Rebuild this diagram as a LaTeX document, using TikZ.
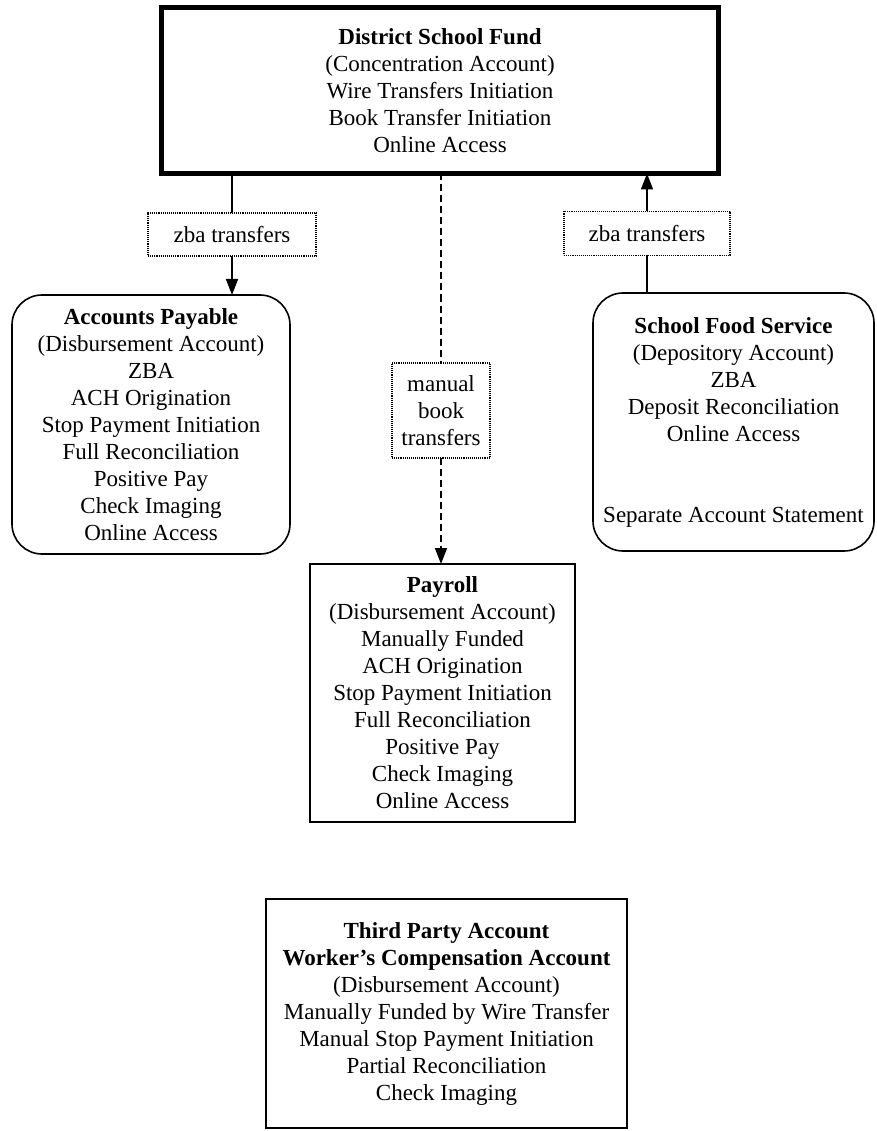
\documentclass[tikz,border=0pt]{standalone}
\usepackage{fontspec}
\setmainfont{Liberation Serif}
\usetikzlibrary{arrows.meta}
\begin{document}
\begin{tikzpicture}[x=1pt,y=1pt,
  every node/.style={inner sep=0pt, outer sep=0pt, align=center,
    font=\fontsize{23}{27}\selectfont},
  acct/.style={draw, line width=1.6pt},
  roundacct/.style={draw, line width=1.6pt, rounded corners=30pt},
  mainacct/.style={draw, line width=5pt},
  lbl/.style={draw, densely dotted, line width=1.1pt},
  conn/.style={line width=1.6pt},
  arr/.style={conn, -{Triangle[length=16pt,width=12pt]}},
]
\useasboundingbox (0,0) rectangle (876,-1131);

\node[mainacct, minimum width=557pt, minimum height=166pt] (top) at (440,-90.5)
  {\textbf{District School Fund}\\(Concentration Account)\\Wire Transfers Initiation\\Book Transfer Initiation\\Online Access};

\node[lbl, minimum width=168pt, minimum height=43pt] (lzba) at (232,-234.5) {zba transfers};
\node[lbl, minimum width=166pt, minimum height=44pt] (rzba) at (647,-233.5) {zba transfers};
\node[lbl, minimum width=98pt, minimum height=95pt] (man) at (441,-410.5) {manual\\book\\transfers};

\node[roundacct, minimum width=278pt, minimum height=259pt] (ap) at (151,-424.5)
  {\textbf{Accounts Payable}\\(Disbursement Account)\\ZBA\\ACH Origination\\Stop Payment Initiation\\Full Reconciliation\\Positive Pay\\Check Imaging\\Online Access};

\node[roundacct, minimum width=281pt, minimum height=258pt] (sfs) at (733.5,-422)
  {\textbf{School Food Service}\\(Depository Account)\\ZBA\\Deposit Reconciliation\\Online Access\\[54pt]Separate Account Statement};

\node[acct, minimum width=265pt, minimum height=258pt] (pay) at (442.5,-693)
  {\textbf{Payroll}\\(Disbursement Account)\\Manually Funded\\ACH Origination\\Stop Payment Initiation\\Full Reconciliation\\Positive Pay\\Check Imaging\\Online Access};

\node[acct, minimum width=361pt, minimum height=229pt] (third) at (446.5,-1013.5)
  {\textbf{Third Party Account}\\\textbf{Worker's Compensation Account}\\(Disbursement Account)\\Manually Funded by Wire Transfer\\Manual Stop Payment Initiation\\Partial Reconciliation\\Check Imaging};

% left zba
\draw[conn] (top.south -| lzba.north) -- (lzba.north);
\draw[arr] (lzba.south) -- (lzba.south |- ap.north);
% right zba
\draw[conn] (sfs.north -| rzba.south) -- (rzba.south);
\draw[arr] (rzba.north) -- (rzba.north |- top.south);
% manual
\draw[conn, dashed, dash pattern=on 7pt off 4pt] (top.south -| man.north) -- (man.north);
\draw[arr, dashed, dash pattern=on 7pt off 4pt] (man.south) -- (man.south |- pay.north);
\end{tikzpicture}
\end{document}
